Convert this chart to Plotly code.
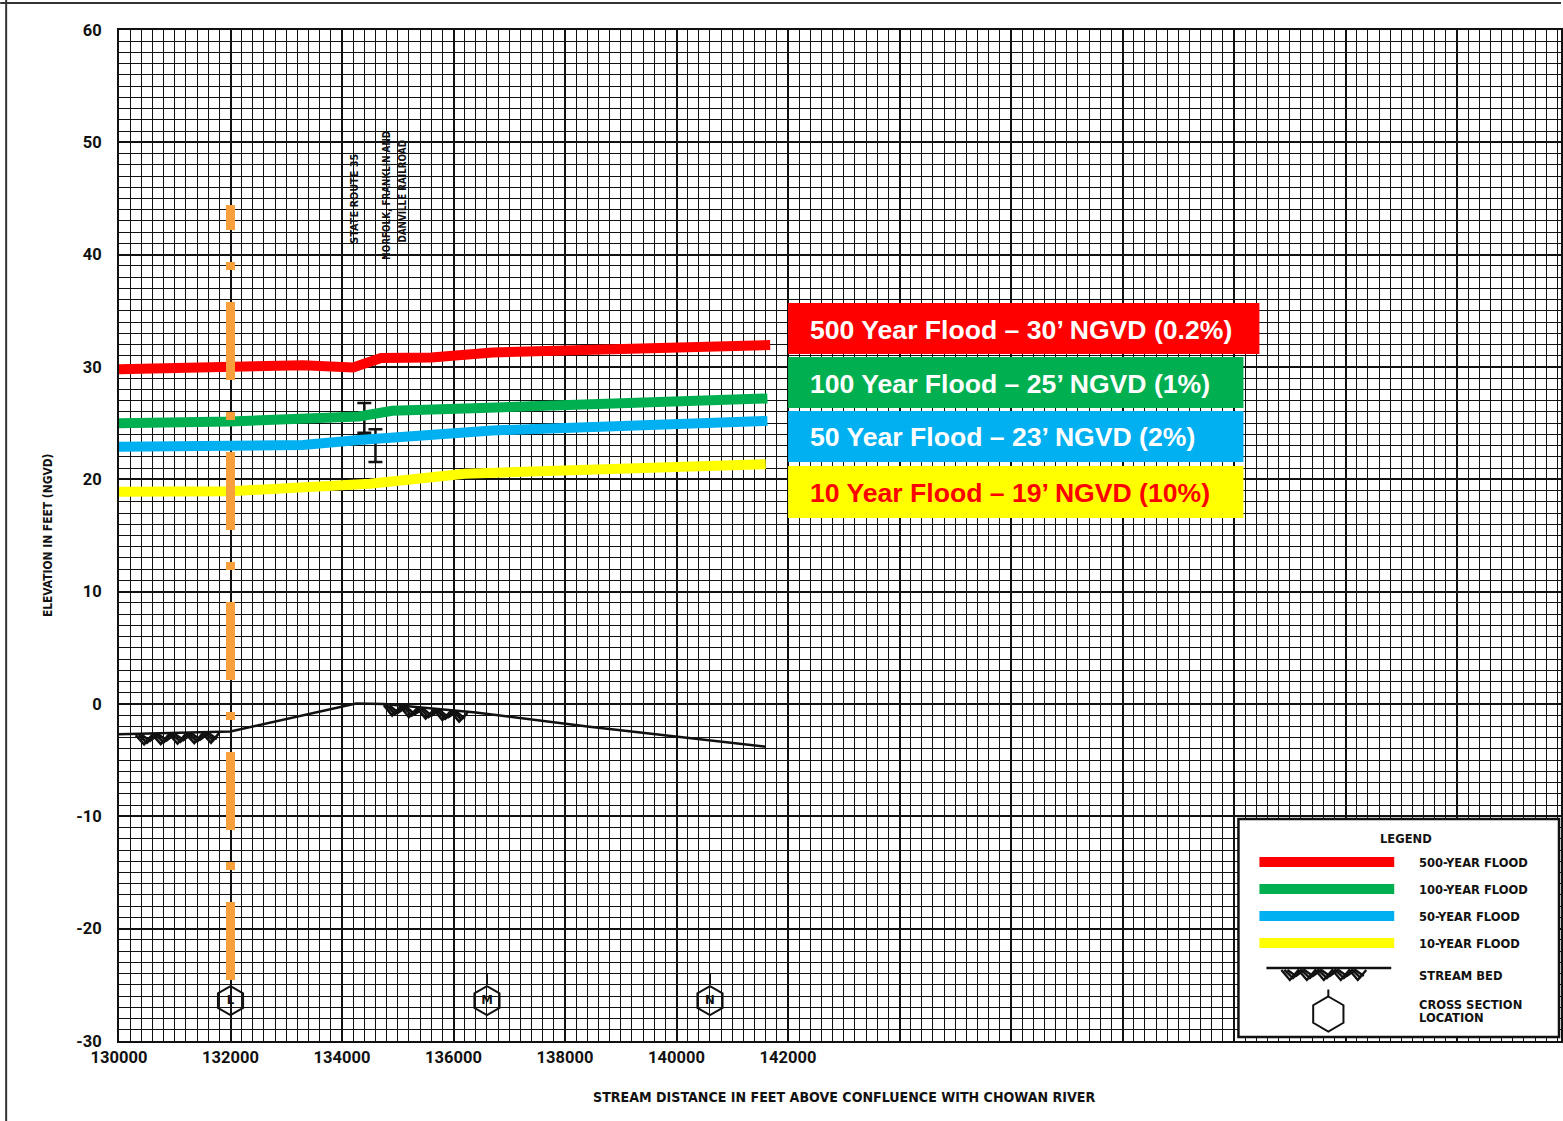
import numpy as np
import plotly.graph_objects as go

# ---------------- data ----------------
x_tick_vals = [130000, 132000, 134000, 136000, 138000, 140000, 142000]
x_tick_text = ["130000", "132000", "134000", "136000", "138000", "140000", "142000"]
y_tick_vals = [-30, -20, -10, 0, 10, 20, 30, 40, 50, 60]
y_tick_text = ["-30", "-20", "-10", "0", "10", "20", "30", "40", "50", "60"]

flood500_x = [130000, 132000, 133300, 134200, 134700, 135600, 136700, 141680]
flood500_y = [29.8, 29.9, 30.15, 29.95, 30.8, 30.85, 31.3, 31.95]

flood100_x = [130000, 132000, 134300, 134900, 136500, 138500, 141630]
flood100_y = [25.0, 25.15, 25.6, 26.1, 26.35, 26.7, 27.2]

flood50_x = [130000, 132000, 133300, 134300, 136700, 141630]
flood50_y = [22.9, 23.0, 23.05, 23.5, 24.35, 25.2]

flood10_x = [130000, 132000, 134500, 136200, 141600]
flood10_y = [18.9, 18.95, 19.6, 20.5, 21.35]

bed_x = [130000, 132000, 134250, 134750, 136400, 138400, 141600]
bed_y = [-2.7, -2.45, 0.05, 0.0, -0.75, -2.0, -3.8]
bed_hatch_ranges = [(130300, 131800), (134750, 136300)]

bridge_x = [134400, 134600]
bridge_top = [26.8, 24.45]
bridge_bottom = [24.15, 21.55]

section_x = [132000, 136600, 140600]
section_label = ["L", "M", "N"]
section_elev = -26.4

corp_line_x = 132000
corp_line_y = [-24.57, 44.42]

flood_labels = ["500 Year Flood \u2013 30\u2019 NGVD (0.2%)",
                "100 Year Flood \u2013 25\u2019 NGVD (1%)",
                "50 Year Flood \u2013 23\u2019 NGVD (2%)",
                "10 Year Flood \u2013 19\u2019 NGVD (10%)"]
legend_labels = ["500-YEAR FLOOD", "100-YEAR FLOOD", "50-YEAR FLOOD", "10-YEAR FLOOD",
                 "STREAM BED", "CROSS SECTION", "LOCATION"]

RED, GREEN, BLUE, YELLOW = "#FF0000", "#00B050", "#00B0F0", "#FFFF00"
ORANGE = "#F8A03C"
INK = "#111111"

# ---------------- layout geometry ----------------
W, H = 1563, 1121
ML, MR, MT, MB = 119, 0, 30, 80
PW, PH = W - ML - MR, H - MT - MB
X_MIN = 130000
X_MAX = 130000 + PW / 55.83 * 1000
Y_MIN, Y_MAX = -30, 60
FT_PX = PH / (Y_MAX - Y_MIN)

NARROW = "Liberation Sans Narrow, Arial Narrow, DejaVu Sans Condensed, sans-serif"
ARIAL = "Liberation Sans, Arial, sans-serif"
TICKFAM = "Roboto, Liberation Sans, sans-serif"


def px(xp):
    return (xp - ML) / PW


def py(yp):
    return (H - MB - yp) / PH


fig = go.Figure()

# stream bed
fig.add_trace(go.Scatter(x=bed_x, y=bed_y, mode="lines",
                         line=dict(color=INK, width=2.5), hoverinfo="skip"))

# stream bed hatch symbol (zig-zags under the bed line)
for a, b in bed_hatch_ranges:
    for phase, depth in ((0.0, 0.85), (0.35, 0.7), (0.7, 0.55)):
        step = 150.0
        xs = np.arange(a + phase * step, b + 1, step)
        base = np.interp(xs, bed_x, bed_y)
        k = np.arange(len(xs))
        ys = base - 0.1 - np.where(k % 2 == 1, depth, 0.0)
        fig.add_trace(go.Scatter(x=xs, y=ys, mode="lines",
                                 line=dict(color=INK, width=2.6), hoverinfo="skip"))

# bridge deck symbols
b_top = np.array(bridge_top)
b_bot = np.array(bridge_bottom)
fig.add_trace(go.Scatter(
    x=bridge_x, y=(b_top + b_bot) / 2, mode="markers",
    marker=dict(size=1, color="rgba(0,0,0,0)"),
    error_y=dict(type="data", array=(b_top - b_bot) / 2, symmetric=True,
                 width=7, thickness=2.5, color=INK),
    hoverinfo="skip"))

# flood profiles
for xs, ys, c in ((flood500_x, flood500_y, RED), (flood100_x, flood100_y, GREEN),
                  (flood50_x, flood50_y, BLUE), (flood10_x, flood10_y, YELLOW)):
    fig.add_trace(go.Scatter(x=xs, y=ys, mode="lines",
                             line=dict(color=c, width=10), hoverinfo="skip"))

# orange dash-dot vertical line
fig.add_trace(go.Scatter(x=[corp_line_x, corp_line_x], y=corp_line_y, mode="lines",
                         line=dict(color=ORANGE, width=9, dash="78px,32px,8px,32px"),
                         hoverinfo="skip"))

# cross section hexagons
fig.add_trace(go.Scatter(
    x=section_x, y=[section_elev] * len(section_x), mode="markers+text",
    marker=dict(symbol="hexagon-open", size=29, color=INK, line=dict(width=2, color=INK)),
    text=section_label, textposition="middle center",
    textfont=dict(family=NARROW, size=13, color=INK, weight="bold"),
    hoverinfo="skip"))
fig.add_trace(go.Scatter(
    x=section_x[1:], y=[section_elev + 21.5 / FT_PX] * (len(section_x) - 1), mode="markers",
    marker=dict(symbol="line-ns", size=8, color=INK, line=dict(width=2, color=INK)),
    hoverinfo="skip"))

# ---------------- shapes / annotations ----------------
shapes = []
annotations = []

# page border of the scan
shapes.append(dict(type="line", xref="paper", yref="paper", x0=px(0), x1=px(W), y0=py(3), y1=py(3),
                   line=dict(color="#333", width=2), layer="above"))
shapes.append(dict(type="line", xref="paper", yref="paper", x0=px(6), x1=px(6), y0=py(0), y1=py(H),
                   line=dict(color="#333", width=2), layer="above"))

# coloured flood labels
boxes = [(789, 303, 1261, 354, RED, "white"),
         (789, 357, 1245, 408, GREEN, "white"),
         (789, 411, 1245, 462, BLUE, "white"),
         (789, 466, 1245, 518, YELLOW, RED)]
for (x0, y0, x1, y1, fill, tc), lab in zip(boxes, flood_labels):
    shapes.append(dict(type="rect", xref="paper", yref="paper", x0=px(x0), x1=px(x1),
                       y0=py(y1), y1=py(y0), fillcolor=fill, line=dict(width=0), layer="above"))
    annotations.append(dict(xref="paper", yref="paper", x=px(809), y=py((y0 + y1) / 2 + 1),
                            xanchor="left", yanchor="middle", showarrow=False, text=lab,
                            font=dict(family=ARIAL, size=26.6, color=tc, weight="bold")))

# legend box
LEGFONT = dict(family=NARROW, size=12.8, color=INK, weight="bold")
shapes.append(dict(type="rect", xref="paper", yref="paper", x0=px(1240), x1=px(1561),
                   y0=py(1037), y1=py(819), fillcolor="white",
                   line=dict(color=INK, width=2.5), layer="above"))
annotations.append(dict(xref="paper", yref="paper", x=px(1408), y=py(838), xanchor="center",
                        yanchor="middle", showarrow=False, text="LEGEND", font=LEGFONT))
leg_y = [862, 889, 916, 943]
for yy, c in zip(leg_y, (RED, GREEN, BLUE, YELLOW)):
    shapes.append(dict(type="line", xref="paper", yref="paper", x0=px(1261), x1=px(1396),
                       y0=py(yy), y1=py(yy), line=dict(color=c, width=10), layer="above"))
for yy, lab in zip(leg_y + [975, 1004, 1017], legend_labels):
    annotations.append(dict(xref="paper", yref="paper", x=px(1419), y=py(yy), xanchor="left",
                            yanchor="middle", showarrow=False, text=lab, font=LEGFONT))
# legend stream bed symbol
shapes.append(dict(type="line", xref="paper", yref="paper", x0=px(1268), x1=px(1393),
                   y0=py(968), y1=py(968), line=dict(color=INK, width=2.5), layer="above"))
for off, dep in ((0, 10), (3, 8), (6, 6)):
    pts = []
    xx = 1283 + off
    k = 0
    while xx <= 1368:
        pts.append((px(xx), py(970 + (dep if k % 2 else 0))))
        xx += 8.5
        k += 1
    path = "M " + " L ".join(f"{a:.5f},{b:.5f}" for a, b in pts)
    shapes.append(dict(type="path", xref="paper", yref="paper", path=path,
                       line=dict(color=INK, width=2.4), layer="above"))
# legend hexagon
cx, cy, rr = 1330, 1014, 17.5
hex_pts = [(cx + rr * np.cos(np.radians(a)), cy + rr * np.sin(np.radians(a)))
           for a in (-90, -30, 30, 90, 150, 210)]
path = "M " + " L ".join(f"{px(a):.5f},{py(b):.5f}" for a, b in hex_pts) + " Z"
shapes.append(dict(type="path", xref="paper", yref="paper", path=path,
                   line=dict(color=INK, width=2), layer="above"))
shapes.append(dict(type="line", xref="paper", yref="paper", x0=px(cx), x1=px(cx),
                   y0=py(cy - rr), y1=py(cy - rr - 7), line=dict(color=INK, width=2), layer="above"))

# vertical structure labels
for xx, yy, lab, sz in ((355, 199, "STATE ROUTE 35", 10.8), (387, 195, "NORFOLK, FRANKLIN AND", 9.8),
                        (403, 191, "DANVILLE RAILROAD", 9.8)):
    annotations.append(dict(xref="paper", yref="paper", x=px(xx), y=py(yy), xanchor="center",
                            yanchor="middle", showarrow=False, text=lab, textangle=-90,
                            font=dict(family=NARROW, size=sz, color=INK, weight="bold")))

# axis titles
annotations.append(dict(xref="paper", yref="paper", x=px(48), y=py(535), xanchor="center",
                        yanchor="middle", showarrow=False, text="ELEVATION IN FEET (NGVD)",
                        textangle=-90,
                        font=dict(family=NARROW, size=11.9, color=INK, weight="bold")))
annotations.append(dict(xref="paper", yref="paper", x=px(845), y=py(1097), xanchor="center",
                        yanchor="middle", showarrow=False,
                        text="STREAM DISTANCE IN FEET ABOVE CONFLUENCE WITH CHOWAN RIVER",
                        font=dict(family=NARROW, size=14.1, color=INK, weight="bold")))

# x ticks: labelled up to 142000, grid continues
x_grid_vals = list(range(130000, int(X_MAX) + 1, 2000))
x_grid_text = [x_tick_text[x_tick_vals.index(v)] if v in x_tick_vals else "" for v in x_grid_vals]

tickfont = dict(family=TICKFAM, size=16.5, color=INK, weight="bold")
fig.update_layout(
    width=W, height=H,
    margin=dict(l=ML, r=MR, t=MT, b=MB, pad=0),
    paper_bgcolor="white", plot_bgcolor="white",
    showlegend=False,
    shapes=shapes, annotations=annotations,
    xaxis=dict(range=[X_MIN, X_MAX], tickmode="array", tickvals=x_grid_vals,
               ticktext=x_grid_text, tickfont=tickfont, ticks="", ticklabelstandoff=0,
               showgrid=True, gridcolor=INK, gridwidth=2.2, zeroline=False,
               showline=True, linecolor=INK, linewidth=2, mirror=True,
               minor=dict(tickmode="linear", tick0=130000, dtick=200, showgrid=True,
                          gridcolor=INK, gridwidth=1.2, ticks="")),
    yaxis=dict(range=[Y_MIN, Y_MAX], tickmode="array", tickvals=y_tick_vals,
               ticktext=y_tick_text,
               tickfont=tickfont, ticks="", ticklabelstandoff=12,
               showgrid=True, gridcolor=INK, gridwidth=2.2, zeroline=False,
               showline=True, linecolor=INK, linewidth=2, mirror=True,
               minor=dict(tickmode="linear", tick0=-30, dtick=1, showgrid=True,
                          gridcolor=INK, gridwidth=1.2, ticks="")),
)

fig.write_html("out.html", config={"displayModeBar": False},
               post_script="document.body.style.margin='0';document.body.style.overflow='hidden';")
